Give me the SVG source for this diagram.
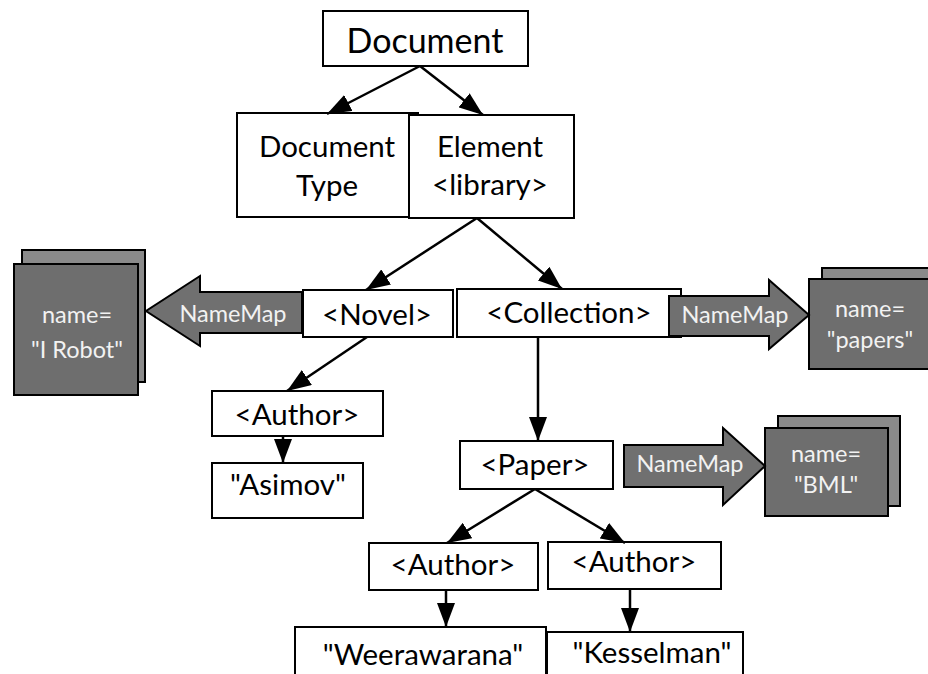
<svg xmlns="http://www.w3.org/2000/svg" width="928" height="674" viewBox="0 0 928 674">
<defs>
<style>
.box{fill:#fff;stroke:#000;stroke-width:2}
.back{fill:#8a8a8a;stroke:#000;stroke-width:2}
.front{fill:#6e6e6e;stroke:#000;stroke-width:2}
.blk{fill:#707070;stroke:#000;stroke-width:2;stroke-linejoin:miter}
.t{font-family:Lato,"Open Sans","DejaVu Sans",sans-serif;font-size:29.5px;fill:#000;text-anchor:middle}
.big{font-size:34px}
.w{font-family:Lato,"Open Sans","DejaVu Sans",sans-serif;font-size:23.5px;fill:#f2f2f2;text-anchor:middle}
.c{stroke:#000;stroke-width:2.5;fill:none;marker-end:url(#ah)}
</style>
<marker id="ah" markerUnits="userSpaceOnUse" markerWidth="24" markerHeight="18" viewBox="0 0 24 18" refX="24" refY="9" orient="auto">
<path d="M0,0 L24,9 L0,18 Z" fill="#000"/>
</marker>
</defs>
<g id="document"><rect class="box" x="323" y="11" width="205" height="55"/><text class="t big" x="425" y="53">Document</text></g>
<g id="doctype"><rect class="box" x="237" y="113" width="181" height="104"/><text class="t" x="327" y="157">Document</text><text class="t" x="327" y="196">Type</text></g>
<g id="element"><rect class="box" x="409" y="115" width="165" height="103"/><text class="t" x="490" y="157">Element</text><text class="t" x="490" y="195">&lt;library&gt;</text></g>
<g id="irobot"><rect class="back" x="22" y="250" width="123" height="132"/><rect class="front" x="14" y="264" width="124" height="131"/><text class="w" x="77" y="323">name=</text><text class="w" x="77" y="358">"I Robot"</text></g>
<g id="namemap1"><polygon class="blk" points="302,292 200,292 200,276 146,311 200,346 200,333 302,333"/><text class="w" x="233" y="322">NameMap</text></g>
<g id="novel"><rect class="box" x="303" y="290" width="150" height="47"/><text class="t" x="377" y="325">&lt;Novel&gt;</text></g>
<g id="collection"><rect class="box" x="457" y="289" width="224" height="48"/><text class="t" x="569" y="323">&lt;Collection&gt;</text></g>
<g id="papers"><rect class="back" x="822" y="268" width="120" height="92"/><rect class="front" x="809" y="279" width="126" height="90"/><text class="w" x="870" y="317">name=</text><text class="w" x="870" y="348">"papers"</text></g>
<g id="namemap2"><polygon class="blk" points="669,296 769,296 769,280 809,315 769,349 769,336 669,336"/><text class="w" x="735" y="323">NameMap</text></g>
<g id="author1"><rect class="box" x="212" y="391" width="171" height="45"/><text class="t" x="297" y="425">&lt;Author&gt;</text></g>
<g id="asimov"><rect class="box" x="212" y="463" width="151" height="55"/><text class="t" x="288" y="495">"Asimov"</text></g>
<g id="paper"><rect class="box" x="460" y="441" width="153" height="48"/><text class="t" x="535" y="475">&lt;Paper&gt;</text></g>
<g id="bml"><rect class="back" x="778" y="416" width="122" height="90"/><rect class="front" x="765" y="428" width="123" height="88"/><text class="w" x="826" y="462">name=</text><text class="w" x="826" y="493">"BML"</text></g>
<g id="namemap3"><polygon class="blk" points="624,445 723,445 723,428 765,466 723,505 723,487 624,487"/><text class="w" x="690" y="472">NameMap</text></g>
<g id="author2"><rect class="box" x="369" y="543" width="169" height="47"/><text class="t" x="453" y="575">&lt;Author&gt;</text></g>
<g id="author3"><rect class="box" x="548" y="542" width="173" height="47"/><text class="t" x="634" y="572">&lt;Author&gt;</text></g>
<g id="weerawarana"><rect class="box" x="295" y="627" width="251" height="60"/><text class="t" x="423" y="665">"Weerawarana"</text></g>
<g id="kesselman"><rect class="box" x="547" y="632" width="196" height="60"/><text class="t" x="652" y="663">"Kesselman"</text></g>
<g id="connectors">
<line class="c" x1="420" y1="66" x2="327" y2="114"/>
<line class="c" x1="420" y1="66" x2="483" y2="115"/>
<line class="c" x1="477" y1="218" x2="366" y2="290"/>
<line class="c" x1="477" y1="218" x2="562" y2="289"/>
<line class="c" x1="367" y1="337" x2="287" y2="391"/>
<line class="c" x1="538" y1="337" x2="538" y2="441"/>
<line class="c" x1="283" y1="436" x2="283" y2="463"/>
<line class="c" x1="535" y1="489" x2="447" y2="543"/>
<line class="c" x1="535" y1="489" x2="625" y2="543"/>
<line class="c" x1="446" y1="590" x2="446" y2="627"/>
<line class="c" x1="630" y1="589" x2="630" y2="632"/>
</g>
</svg>
